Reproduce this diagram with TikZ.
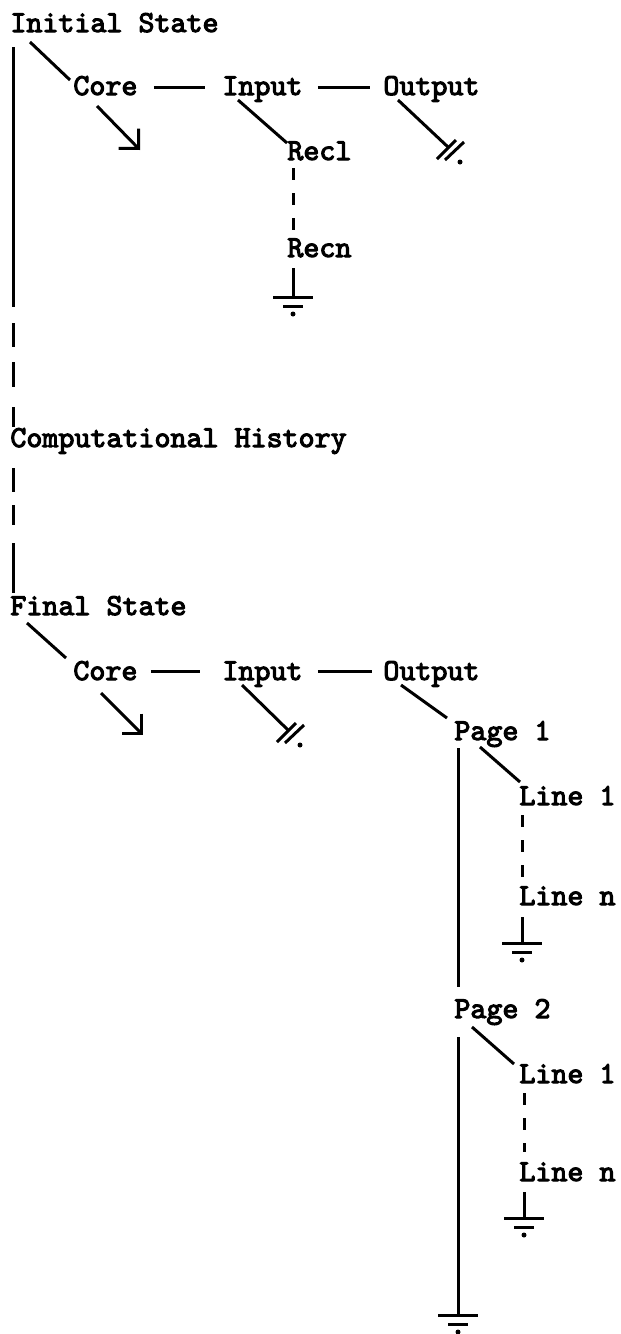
\documentclass[tikz,border=0pt]{standalone}
\usepackage{fontspec}
\newfontfamily\tw{lmmono10-regular.otf}[FakeBold=3.5]
\usepackage{tikz}
\usetikzlibrary{arrows.meta}

\tikzset{
      lbl/.style={anchor=base west,inner sep=0pt,text height=0.62em,text depth=0.22em,
            font=\tw\fontsize{15.25}{18}\selectfont},
      link/.style={line width=1.5pt},
      brk/.style={link,dash pattern=on 6pt off 6.5pt},
      gnd/.pic={
            \draw[link] (-20,0) -- (20,0);
            \draw[link] (-10,9) -- (10,9);
            \fill (0,17) circle (2.5);
      },
      nilend/.pic={
            \draw[link] (-11,12) -- (8,-7);
            \draw[link] (-3,13) -- (16,-5);
            \fill (12,15) circle (2.5);
      }
}

\begin{document}
\begin{tikzpicture}[x=0.5pt,y=-0.5pt]
\useasboundingbox (0,0) rectangle (621,1334);
% initial state
\node[lbl] (init) at (10,32) {Initial State};
\node[lbl] (core) at (73,95) {Core};
\node[lbl] (inp) at (222,95) {Input};
\node[lbl] (outp) at (383,95) {Output};
\node[lbl] (rec1) at (287,160) {Recl};
\node[lbl] (recn) at (287,257) {Recn};
\node[lbl] (hist) at (10,447) {Computational History};
% final state
\node[lbl] (final) at (10,615) {Final State};
\node[lbl] (core2) at (73,680) {Core};
\node[lbl] (inp2) at (222,680) {Input};
\node[lbl] (outp2) at (383,680) {Output};
\node[lbl] (pg1) at (454,740) {Page 1};
\node[lbl] (ln1a) at (519,805) {Line 1};
\node[lbl] (lnna) at (519,905) {Line n};
\node[lbl] (pg2) at (454,1018) {Page 2};
\node[lbl] (ln1b) at (519,1083) {Line 1};
\node[lbl] (lnnb) at (519,1181) {Line n};

\coordinate (corenil) at ([shift={(67,55)}]core.base west);
\coordinate (outnil) at ([shift={(65,52)}]outp.base west);
\coordinate (recgnd) at ([shift={(6,40)}]recn.base west);
\coordinate (core2nil) at ([shift={(70,55)}]core2.base west);
\coordinate (inp2nil) at ([shift={(66,50)}]inp2.base west);
\coordinate (lnnagnd) at ([shift={(3,38)}]lnna.base west);
\coordinate (lnnbgnd) at ([shift={(5,37)}]lnnb.base west);
\coordinate (botgnd) at ([shift={(4,297)}]pg2.base west);

% top tree
\draw[link] ([shift={(20,10)}]init.base west) -- ([shift={(-3,-15)}]core.base west);
\draw[link] ([shift={(16,-8)}]core.base east) -- ([shift={(-17,-8)}]inp.base west);
\draw[link] ([shift={(15,-8)}]inp.base east) -- ([shift={(-13,-8)}]outp.base west);
\draw[link,-{Straight Barb[length=7pt,width=14pt]}] ([shift={(24,11)}]core.base west) -- (corenil);
\draw[link] ([shift={(16,5)}]inp.base west) -- ([shift={(0,-17)}]rec1.base west);
\draw[link] ([shift={(15,5)}]outp.base west) -- (outnil);
\pic at (outnil) {nilend};
\draw[brk] ([shift={(6,8)}]rec1.base west) -- ([shift={(6,-27)}]recn.base west);
\draw[link] ([shift={(6,11)}]recn.base west) -- (recgnd);
\pic at (recgnd) {gnd};

% trunk
\draw[link,dash pattern=on 130pt off 8pt on 12pt off 7.5pt on 12.5pt off 10pt on 10pt]
      ([shift={(3,15)}]init.base west) -- ([shift={(3,-20)}]hist.base west);
\draw[link,dash pattern=on 12pt off 6.5pt on 10pt off 9pt on 25pt]
      ([shift={(3,21)}]hist.base west) -- ([shift={(3,-22)}]final.base west);

% bottom tree
\draw[link] ([shift={(17,8)}]final.base west) -- ([shift={(-7,-22)}]core2.base west);
\draw[link] ([shift={(13,-9)}]core2.base east) -- ([shift={(-22,-9)}]inp2.base west);
\draw[link] ([shift={(15,-9)}]inp2.base east) -- ([shift={(-11,-9)}]outp2.base west);
\draw[link,-{Straight Barb[length=7pt,width=14pt]}] ([shift={(28,13)}]core2.base west) -- (core2nil);
\draw[link] ([shift={(20,5)}]inp2.base west) -- (inp2nil);
\pic at (inp2nil) {nilend};
\draw[link] ([shift={(18,5)}]outp2.base west) -- ([shift={(-7,-22)}]pg1.base west);
\draw[link] ([shift={(4,8)}]pg1.base west) -- ([shift={(4,-31)}]pg2.base west);
\draw[link] ([shift={(26,7)}]pg1.base west) -- ([shift={(1,-23)}]ln1a.base west);
\draw[brk] ([shift={(3,10)}]ln1a.base west) -- ([shift={(3,-25)}]lnna.base west);
\draw[link] ([shift={(3,12)}]lnna.base west) -- (lnnagnd);
\pic at (lnnagnd) {gnd};
\draw[link] ([shift={(4,19)}]pg2.base west) -- (botgnd);
\pic at (botgnd) {gnd};
\draw[link] ([shift={(18,9)}]pg2.base west) -- ([shift={(-5,-19)}]ln1b.base west);
\draw[brk] ([shift={(5,10)}]ln1b.base west) -- ([shift={(5,-29)}]lnnb.base west);
\draw[link] ([shift={(5,11)}]lnnb.base west) -- (lnnbgnd);
\pic at (lnnbgnd) {gnd};
\end{tikzpicture}
\end{document}
